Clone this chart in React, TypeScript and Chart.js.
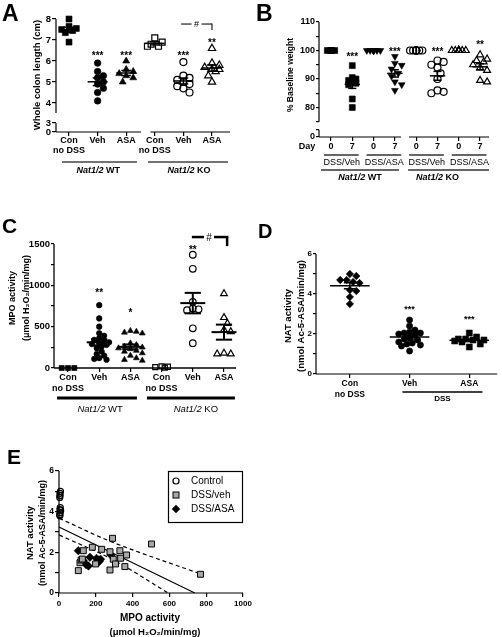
import React, { useEffect, useRef } from 'react';
import { Chart, registerables } from 'chart.js';

Chart.register(...registerables);

const W = 502;
const H = 637;
const FONT = '"Liberation Sans", Arial, Helvetica, sans-serif';
const YW = 40;
const XH = 40;

/* ===================== DATA ===================== */
// Panel A – whole colon length (cm)
const A_CATEGORIES = [['Con', 'no DSS'], ['Veh'], ['ASA'], ['Con', 'no DSS'], ['Veh'], ['ASA']];
const A_WT_CON = [8.0, 7.65, 7.55, 7.5, 7.45, 7.35, 6.9];
const A_WT_VEH = [5.9, 5.5, 5.3, 5.2, 5.0, 4.9, 4.7, 4.5, 4.1];
const A_WT_ASA = [6.0, 5.6, 5.5, 5.4, 5.3, 5.2, 5.0];
const A_KO_CON = [7.1, 6.9, 6.8, 6.7, 6.7];
const A_KO_VEH = [5.95, 5.3, 5.2, 5.1, 5.0, 4.9, 4.8, 4.7, 4.5];
const A_KO_ASA = [6.6, 5.9, 5.8, 5.7, 5.6, 5.6, 5.5, 5.3, 5.0];
const A_Y_TICKS = [0, 3, 4, 5, 6, 7, 8];
const A_STARS = ['', '***', '***', '', '***', '**'];

// Panel B – % baseline weight
const B_DAYS = ['0', '7', '0', '7', '0', '7', '0', '7'];
const B_TREATMENTS = ['DSS/Veh', 'DSS/ASA', 'DSS/Veh', 'DSS/ASA'];
const B_WT_VEH_D0 = [100, 100, 100, 100, 100, 100, 100, 100, 100];
const B_WT_VEH_D7 = [94.7, 90.5, 90, 89.5, 89, 88.5, 88, 83, 80];
const B_WT_ASA_D0 = [100, 100, 100, 100, 100, 100, 100, 100, 100];
const B_WT_ASA_D7 = [97.9, 95.5, 94.8, 93.5, 92, 91, 89, 88, 86];
const B_KO_VEH_D0 = [100, 100, 100, 100, 100, 100, 100, 100, 100];
const B_KO_VEH_D7 = [96.5, 96, 95, 94, 92, 90, 86, 85.5, 85];
const B_KO_ASA_D0 = [100, 100, 100, 100, 100, 100, 100, 100, 100];
const B_KO_ASA_D7 = [98.5, 97, 96.5, 96, 95, 94, 93, 89.5, 89];
const B_Y_TICKS = [0, 80, 90, 100, 110];
const B_Y_MINOR = [75, 85, 95, 105];
const B_STARS = ['', '***', '', '***', '', '***', '', '**'];

// Panel C – MPO activity
const C_CATEGORIES = [['Con', 'no DSS'], ['Veh'], ['ASA'], ['Con', 'no DSS'], ['Veh'], ['ASA']];
const C_WT_CON = [0, 0, 0];
const C_WT_VEH = [760, 600, 500, 420, 390, 360, 340, 320, 310, 300, 290, 280, 260, 240, 200, 170, 150, 120, 110, 100];
const C_WT_ASA = [450, 440, 430, 420, 300, 280, 260, 250, 240, 230, 210, 200, 180, 150, 120, 100, 90];
const C_KO_CON = [20, 15, 10, 5];
const C_KO_VEH = [1370, 1200, 800, 720, 710, 700, 480, 300];
const C_KO_ASA = [900, 610, 540, 460, 440, 180, 170, 170];
const C_Y_TICKS = [0, 500, 1000, 1500];
const C_Y_MINOR = [250, 750, 1250];
const C_STARS = ['', '**', '*', '', '**', ''];

// Panel D – NAT activity
const D_CATEGORIES = [['Con', 'no DSS'], ['Veh'], ['ASA']];
const D_CON = [5.0, 4.9, 4.7, 4.7, 4.6, 4.55, 4.2, 4.15, 3.85, 3.5];
const D_VEH = [2.7, 2.4, 2.2, 2.1, 2.05, 2.05, 2.0, 1.95, 1.8, 1.75, 1.7, 1.6, 1.55, 1.5, 1.45, 1.4, 1.15];
const D_ASA = [2.05, 1.85, 1.75, 1.75, 1.7, 1.7, 1.65, 1.6, 1.5, 1.35];
const D_Y_TICKS = [0, 2, 4, 6];
const D_Y_MINOR = [1, 3, 5];
const D_STARS = ['', '***', '***'];

// Panel E – NAT vs MPO correlation
const E_SERIES = ['Control', 'DSS/veh', 'DSS/ASA'];
const E_CONTROL_MPO = [8, 5, 6, 4, 7, 5, 9, 6, 4, 5];
const E_CONTROL_NAT = [5.0, 4.9, 4.8, 4.7, 4.2, 4.1, 4.05, 3.95, 3.85, 3.8];
const E_VEH_MPO = [105, 114, 120, 127, 132, 181, 199, 232, 277, 291, 277, 295, 307, 331, 335, 358, 367, 503, 769];
const E_VEH_NAT = [1.1, 1.49, 1.62, 1.67, 2.08, 2.25, 1.43, 2.15, 2.03, 2.69, 1.13, 1.66, 1.43, 2.08, 1.71, 1.3, 1.87, 2.41, 0.92];
const E_ASA_MPO = [105, 132, 147, 160, 168, 204, 212, 226, 219, 282];
const E_ASA_NAT = [2.08, 1.59, 1.4, 1.33, 1.76, 1.7, 1.62, 1.66, 1.55, 1.87];
const E_FIT_MPO = [0, 738];
const E_FIT_NAT = [3.25, 0];
const E_UPPER_MPO = [0, 290, 765];
const E_UPPER_NAT = [3.68, 2.5, 0.95];
const E_LOWER_MPO = [0, 300, 593];
const E_LOWER_NAT = [2.86, 1.6, 0];
const E_X_TICKS = [0, 200, 400, 600, 800, 1000];
const E_Y_TICKS = [0, 2, 4, 6];
const E_Y_MINOR = [1, 3, 5];

/* ===================== HELPERS ===================== */
const f = (size: number, weight = 'bold', style = 'normal') => `${style} ${weight} ${size}px ${FONT}`;

function seg(ctx: any, x1: number, y1: number, x2: number, y2: number, lw = 1.2, color = '#000', dash: number[] = []) {
  ctx.save();
  ctx.strokeStyle = color;
  ctx.lineWidth = lw;
  ctx.setLineDash(dash);
  ctx.beginPath();
  ctx.moveTo(x1, y1);
  ctx.lineTo(x2, y2);
  ctx.stroke();
  ctx.restore();
}

function text(ctx: any, s: string, x: number, y: number, font: string, align = 'center', baseline = 'middle', angle = 0) {
  ctx.save();
  ctx.font = font;
  ctx.fillStyle = '#000';
  ctx.textAlign = align;
  ctx.textBaseline = baseline;
  ctx.translate(x, y);
  if (angle) ctx.rotate(angle);
  ctx.fillText(s, 0, 0);
  ctx.restore();
}

const vtext = (ctx: any, s: string, x: number, y: number, font: string) => text(ctx, s, x, y, font, 'center', 'middle', -Math.PI / 2);
const letter = (ctx: any, s: string, x: number, baseline: number, size: number) => text(ctx, s, x, baseline, f(size), 'left', 'alphabetic');

function glyph(ctx: any, s: string, cx: number, cy: number, size: number, kind: 'star' | 'hash', weight = 'bold') {
  const k = kind === 'star' ? 0.57 : 0.36;
  text(ctx, s, cx, cy + k * size, f(size, weight), 'center', 'alphabetic');
}

function rich(ctx: any, parts: [string, string][], cx: number, cy: number) {
  ctx.save();
  let total = 0;
  const widths = parts.map(([s, fo]) => {
    ctx.font = fo;
    const w = ctx.measureText(s).width;
    total += w;
    return w;
  });
  let x = cx - total / 2;
  ctx.fillStyle = '#000';
  ctx.textBaseline = 'middle';
  ctx.textAlign = 'left';
  parts.forEach(([s, fo], i) => {
    ctx.font = fo;
    ctx.fillText(s, x, cy);
    x += widths[i];
  });
  ctx.restore();
}

function swarm(values: number[], pyu: number, d: number, cap: number): number[] {
  const idx = values.map((_, i) => i).sort((a, b) => values[b] - values[a]);
  const placed: { x: number; y: number }[] = [];
  const out = values.map(() => 0);
  const step = d * 0.5;
  for (const i of idx) {
    const y = values[i] * pyu;
    let best = 0;
    let bestScore = -1;
    for (let k = 0; k < 60; k++) {
      const off = (k % 2 === 1 ? 1 : -1) * Math.ceil(k / 2) * step;
      if (Math.abs(off) > cap + 1e-6) continue;
      let minD = Infinity;
      for (const p of placed) minD = Math.min(minD, Math.hypot(p.x - off, p.y - y));
      if (minD >= d * 0.95) {
        best = off;
        bestScore = Infinity;
        break;
      }
      if (minD > bestScore) {
        bestScore = minD;
        best = off;
      }
    }
    placed.push({ x: best, y });
    out[i] = best;
  }
  return out;
}

const meanOf = (v: number[]) => v.reduce((a, b) => a + b, 0) / v.length;
const semOf = (v: number[]) => {
  const m = meanOf(v);
  const sd = Math.sqrt(v.reduce((a, b) => a + (b - m) * (b - m), 0) / (v.length - 1));
  return sd / Math.sqrt(v.length);
};

type Tick = { v: number; label: any };

function scaleOpts(axis: 'x' | 'y', spec: any) {
  const isX = axis === 'x';
  const ticks: Tick[] = isX ? spec.xTicks : spec.yTicks;
  const fo = isX ? spec.xFont : spec.yFont;
  const range = isX ? spec.xr : spec.yr;
  return {
    type: 'linear',
    min: range[0],
    max: range[1],
    border: { display: false },
    grid: {
      display: true,
      drawOnChartArea: false,
      drawTicks: true,
      tickLength: isX ? spec.xTickLen : spec.yTickLen,
      color: '#000',
      tickColor: '#000',
      lineWidth: 1.2,
      tickWidth: 1.2,
    },
    ticks: {
      autoSkip: false,
      maxRotation: 0,
      minRotation: 0,
      padding: isX ? spec.xPad : spec.yPad,
      color: '#000',
      font: { family: FONT, size: fo.size, weight: 'bold', lineHeight: fo.lh || 1.2 },
      callback: (val: number) => {
        const t = ticks.find((tk) => Math.abs(tk.v - val) < 1e-9);
        return t ? t.label : '';
      },
    },
    afterBuildTicks: (s: any) => {
      s.ticks = ticks.map((t) => ({ value: t.v }));
    },
    afterFit: (s: any) => {
      if (isX) s.height = XH;
      else s.width = YW;
      s.paddingLeft = 0;
      s.paddingRight = 0;
      s.paddingTop = 0;
      s.paddingBottom = 0;
    },
  };
}

function baseOptions(spec: any) {
  const a = spec.area;
  return {
    responsive: false,
    animation: false,
    events: [],
    layout: { padding: { left: a.l - YW, top: a.t, right: W - a.r, bottom: H - a.b - XH } },
    plugins: { legend: { display: false }, tooltip: { enabled: false }, title: { display: false } },
    scales: { x: scaleOpts('x', spec), y: scaleOpts('y', spec) },
  };
}

function helpers(chart: any) {
  const xs = chart.scales.x;
  const ys = chart.scales.y;
  return {
    ctx: chart.ctx,
    px: (v: number) => xs.getPixelForValue(v),
    py: (v: number) => ys.getPixelForValue(v),
    area: chart.chartArea,
  };
}

function buildDot(spec: any) {
  const a = spec.area;
  const pxu = (a.r - a.l) / (spec.xr[1] - spec.xr[0]);
  const pyu = (a.b - a.t) / (spec.yr[1] - spec.yr[0]);
  const datasets = spec.groups.map((g: any) => {
    const offs = swarm(g.values, pyu, g.mark.r * 1.75, spec.jitterCap);
    return {
      data: g.values.map((v: number, i: number) => ({ x: g.x + offs[i] / pxu, y: v })),
      pointStyle: g.mark.shape,
      pointRadius: g.mark.r,
      pointRotation: g.mark.rot || 0,
      pointBackgroundColor: g.mark.filled ? '#000' : 'rgba(0,0,0,0)',
      pointBorderColor: '#000',
      pointBorderWidth: g.mark.filled ? 0.6 : 1.2,
      showLine: false,
      clip: false,
    };
  });
  const plugin = {
    id: 'dotDecor',
    beforeDatasetsDraw(chart: any) {
      const d = helpers(chart);
      for (const [s, e] of spec.ySegs) seg(d.ctx, d.area.left, d.py(s), d.area.left, d.py(e), spec.axisLW);
      for (const [s, e] of spec.xSegs) seg(d.ctx, d.px(s), d.area.bottom, d.px(e), d.area.bottom, spec.axisLW);
    },
    afterDatasetsDraw(chart: any) {
      const d = helpers(chart);
      for (const g of spec.groups) {
        if (!g.bar) continue;
        const m = meanOf(g.values);
        const s = semOf(g.values);
        const x = d.px(g.x);
        const hw = spec.meanHalf * pxu;
        const cw = spec.semHalf * pxu;
        const lw = spec.barLW;
        seg(d.ctx, x - hw, d.py(m), x + hw, d.py(m), lw);
        seg(d.ctx, x, d.py(m - s), x, d.py(m + s), lw);
        seg(d.ctx, x - cw, d.py(m + s), x + cw, d.py(m + s), lw);
        seg(d.ctx, x - cw, d.py(m - s), x + cw, d.py(m - s), lw);
      }
    },
    afterDraw(chart: any) {
      spec.decor(helpers(chart));
    },
  };
  return {
    type: 'scatter',
    data: { datasets },
    options: baseOptions(spec),
    plugins: [plugin],
  };
}

const open = (shape: string, r: number, rot = 0) => ({ shape, filled: false, r, rot });
const fill = (shape: string, r: number, rot = 0) => ({ shape, filled: true, r, rot });

/* ===================== PANELS ===================== */
function makeA() {
  const aAxis = (v: number) => (v >= 4 ? v : 2.62 + (v * 0.43) / 3);
  const series = [A_WT_CON, A_WT_VEH, A_WT_ASA, A_KO_CON, A_KO_VEH, A_KO_ASA];
  const marks = [fill('rect', 4.2), fill('circle', 3.3), fill('triangle', 4), open('rect', 4.2), open('circle', 3.5), open('triangle', 4.2)];
  const starLevel = [0, 6.37, 6.37, 0, 6.37, 7.0];
  return buildDot({
    area: { l: 56, t: 19, r: 230, b: 132 },
    xr: [-0.455, 5.63],
    yr: [2.62, 8],
    xTicks: A_CATEGORIES.map((c, i) => ({ v: i, label: c })),
    yTicks: A_Y_TICKS.map((v) => ({ v: aAxis(v), label: String(v) })),
    groups: series.map((vals, i) => ({ x: i, values: vals, mark: marks[i], bar: true })),
    xFont: { size: 9, lh: 1.1 },
    yFont: { size: 9.5 },
    xTickLen: 4,
    xPad: 0,
    yTickLen: 4,
    yPad: 1,
    meanHalf: 0.35,
    semHalf: 0.17,
    barLW: 1.5,
    jitterCap: 8,
    xSegs: [[-0.455, 2.52], [2.85, 5.63]],
    ySegs: [[2.62, 3.05], [3.52, 8]],
    axisLW: 1.2,
    decor: (d: any) => {
      const ctx = d.ctx;
      letter(ctx, 'A', 2, 21, 23);
      vtext(ctx, 'Whole colon length (cm)', 37, 75, f(9.5));
      A_STARS.forEach((s, i) => s && glyph(ctx, s, d.px(i), d.py(starLevel[i]), 10, 'star'));
      const by = d.py(7.76);
      const bx1 = d.px(3.92);
      const bx2 = d.px(5.0);
      const bxm = d.px(4.46);
      seg(ctx, bx1, by, bxm - 5, by, 1.2, '#222');
      seg(ctx, bxm + 5, by, bx2, by, 1.2, '#222');
      seg(ctx, bx2, by - 0.6, bx2, d.py(7.48), 1.2, '#222');
      glyph(ctx, '#', bxm, by, 9, 'hash', 'normal');
      seg(ctx, d.px(-0.245), 162, d.px(2.38), 162, 1.5, '#444');
      seg(ctx, d.px(2.76), 162, d.px(5.56), 162, 1.5, '#444');
      rich(ctx, [['Nat1/2', f(9, 'bold', 'italic')], [' WT', f(9)]], d.px(1.02), 171);
      rich(ctx, [['Nat1/2', f(9, 'bold', 'italic')], [' KO', f(9)]], d.px(4.2), 171);
    },
  });
}

function makeB() {
  const ZERO_AT = 69.65;
  const LOWER_TOP = 72.2;
  const UPPER_BOTTOM = 75;
  const bAxis = (v: number) => (v >= UPPER_BOTTOM ? v : ZERO_AT + v);
  const series = [B_WT_VEH_D0, B_WT_VEH_D7, B_WT_ASA_D0, B_WT_ASA_D7, B_KO_VEH_D0, B_KO_VEH_D7, B_KO_ASA_D0, B_KO_ASA_D7];
  const marks = [
    fill('rect', 4.2), fill('rect', 4.2),
    fill('triangle', 3.9, 180), fill('triangle', 3.9, 180),
    open('circle', 3.5), open('circle', 3.5),
    open('triangle', 4), open('triangle', 4),
  ];
  const starLevel = [0, 98.6, 0, 100.4, 0, 100.4, 0, 102.8];
  const yTicks: Tick[] = [
    ...B_Y_TICKS.map((v) => ({ v: bAxis(v), label: String(v) })),
    ...B_Y_MINOR.map((v) => ({ v, label: '' })),
    { v: LOWER_TOP, label: '' },
  ];
  return buildDot({
    area: { l: 319, t: 22, r: 489, b: 137 },
    xr: [-0.563, 7.418],
    yr: [ZERO_AT, 110],
    xTicks: B_DAYS.map((c, i) => ({ v: i, label: c })),
    yTicks,
    groups: series.map((vals, i) => ({ x: i, values: vals, mark: marks[i], bar: i % 2 === 1 })),
    xFont: { size: 9, lh: 1.1 },
    yFont: { size: 9 },
    xTickLen: 4,
    xPad: 1,
    yTickLen: 3,
    yPad: 1,
    meanHalf: 0.36,
    semHalf: 0.19,
    barLW: 1.5,
    jitterCap: 7,
    xSegs: [[-0.563, 3.286], [3.662, 7.418]],
    ySegs: [[ZERO_AT, LOWER_TOP], [UPPER_BOTTOM, 110]],
    axisLW: 1.2,
    decor: (d: any) => {
      const ctx = d.ctx;
      letter(ctx, 'B', 256, 21, 23);
      vtext(ctx, '% Baseline weight', 291, 75, f(8.5));
      text(ctx, 'Day', 307, 147, f(9));
      B_STARS.forEach((s, i) => s && glyph(ctx, s, d.px(i), d.py(starLevel[i]), 10, 'star'));
      B_TREATMENTS.forEach((t, p) => {
        seg(ctx, d.px(2 * p - 0.33), 155, d.px(2 * p + 1.3), 155, 1.3, '#333');
        text(ctx, t, d.px(2 * p + 0.5), 163, f(9, 'normal'));
      });
      seg(ctx, d.px(-0.47), 170, d.px(3.19), 170, 1.3, '#333');
      seg(ctx, d.px(3.62), 170, d.px(7.42), 170, 1.3, '#333');
      rich(ctx, [['Nat1/2', f(9, 'bold', 'italic')], [' WT', f(9)]], d.px(1.36), 178);
      rich(ctx, [['Nat1/2', f(9, 'bold', 'italic')], [' KO', f(9)]], d.px(5.0), 178);
    },
  });
}

function makeC() {
  const series = [C_WT_CON, C_WT_VEH, C_WT_ASA, C_KO_CON, C_KO_VEH, C_KO_ASA];
  const marks = [fill('rect', 3.6), fill('circle', 2.8), fill('triangle', 3.4), open('rect', 3.6), open('circle', 3.3), open('triangle', 3.9)];
  const starLevel = [0, 943, 701, 0, 1463, 0];
  const yTicks: Tick[] = [...C_Y_TICKS.map((v) => ({ v, label: String(v) })), ...C_Y_MINOR.map((v) => ({ v, label: '' }))];
  return buildDot({
    area: { l: 54, t: 244, r: 236, b: 368 },
    xr: [-0.449, 5.385],
    yr: [0, 1500],
    xTicks: C_CATEGORIES.map((c, i) => ({ v: i, label: c })),
    yTicks,
    groups: series.map((vals, i) => ({ x: i, values: vals, mark: marks[i], bar: i % 3 !== 0 })),
    xFont: { size: 9, lh: 1.2 },
    yFont: { size: 9.5 },
    xTickLen: 4,
    xPad: 0,
    yTickLen: 3,
    yPad: 1,
    meanHalf: 0.4,
    semHalf: 0.26,
    barLW: 2,
    jitterCap: 12,
    xSegs: [[-0.449, 5.385]],
    ySegs: [[0, 1500]],
    axisLW: 1.3,
    decor: (d: any) => {
      const ctx = d.ctx;
      letter(ctx, 'C', 2, 233, 21);
      vtext(ctx, 'MPO activity', 13, 298, f(9));
      vtext(ctx, '(\u03bcmol H\u2082O\u2082/min/mg)', 27, 298, f(9));
      C_STARS.forEach((s, i) => s && glyph(ctx, s, d.px(i), d.py(starLevel[i]), 10, 'star'));
      const by = d.py(1584);
      const bx1 = d.px(3.97);
      const bx2 = d.px(5.1);
      const bxm = d.px(4.52);
      seg(ctx, bx1, by, bxm - 5, by, 2.5);
      seg(ctx, bxm + 5, by, bx2 + 1.2, by, 2.5);
      seg(ctx, bx2, by, bx2, d.py(1475), 2.5);
      glyph(ctx, '#', bxm, by, 10, 'hash', 'normal');
      seg(ctx, d.px(-0.35), 398, d.px(2.21), 398, 3);
      seg(ctx, d.px(2.53), 398, d.px(5.35), 398, 3);
      rich(ctx, [['Nat1/2', f(9.5, 'normal', 'italic')], [' WT', f(9.5, 'normal')]], d.px(1.03), 409);
      rich(ctx, [['Nat1/2', f(9.5, 'normal', 'italic')], [' KO', f(9.5, 'normal')]], d.px(4.1), 409);
    },
  });
}

function makeD() {
  const series = [D_CON, D_VEH, D_ASA];
  const marks = [fill('rectRot', 3.7), fill('circle', 3.1), fill('rect', 4.2)];
  const starLevel = [0, 3.37, 2.87];
  const yTicks: Tick[] = [...D_Y_TICKS.map((v) => ({ v, label: String(v) })), ...D_Y_MINOR.map((v) => ({ v, label: '' }))];
  return buildDot({
    area: { l: 316, t: 254, r: 498, b: 374 },
    xr: [-0.567, 2.467],
    yr: [0, 6],
    xTicks: D_CATEGORIES.map((c, i) => ({ v: i, label: c })),
    yTicks,
    groups: series.map((vals, i) => ({ x: i, values: vals, mark: marks[i], bar: true })),
    xFont: { size: 8.5, lh: 1.3 },
    yFont: { size: 8 },
    xTickLen: 4,
    xPad: 0,
    yTickLen: 3,
    yPad: 1,
    meanHalf: 0.33,
    semHalf: 0.1,
    barLW: 1.5,
    jitterCap: 16,
    xSegs: [[-0.567, 2.467]],
    ySegs: [[0, 6]],
    axisLW: 1.2,
    decor: (d: any) => {
      const ctx = d.ctx;
      letter(ctx, 'D', 258, 238, 20);
      vtext(ctx, 'NAT activity', 288, 316, f(9.5));
      vtext(ctx, '(nmol Ac-5-ASA/min/mg)', 301, 316, f(9.5));
      D_STARS.forEach((s, i) => s && glyph(ctx, s, d.px(i), d.py(starLevel[i]), 9, 'star'));
      seg(ctx, d.px(0.88), 392, d.px(2.22), 392, 1.5);
      text(ctx, 'DSS', d.px(1.55), 399, f(8));
    },
  });
}

function makeE() {
  const spec = {
    area: { l: 59, t: 471, r: 243, b: 593 },
    xr: [0, 1000],
    yr: [0, 6],
    xTicks: E_X_TICKS.map((v) => ({ v, label: String(v) })),
    yTicks: [...E_Y_TICKS.map((v) => ({ v, label: String(v) })), ...E_Y_MINOR.map((v) => ({ v, label: '' }))],
    xFont: { size: 8 },
    yFont: { size: 8.5 },
    xTickLen: 4,
    xPad: 2,
    yTickLen: 4,
    yPad: 1,
  };
  const pts = (xs: number[], ys: number[]) => xs.map((x, i) => ({ x, y: ys[i] }));
  const lineDs = (xs: number[], ys: number[], dash: number[]) => ({
    data: pts(xs, ys),
    showLine: true,
    pointRadius: 0,
    borderColor: '#000',
    borderWidth: 1.2,
    borderDash: dash,
    tension: 0.35,
    fill: false,
    clip: false,
  });
  const datasets = [
    {
      label: E_SERIES[0],
      data: pts(E_CONTROL_MPO, E_CONTROL_NAT),
      pointStyle: 'circle',
      pointRadius: 3,
      pointBackgroundColor: 'rgba(0,0,0,0)',
      pointBorderColor: '#000',
      pointBorderWidth: 1.2,
      clip: false,
    },
    {
      label: E_SERIES[1],
      data: pts(E_VEH_MPO, E_VEH_NAT),
      pointStyle: 'rect',
      pointRadius: 4.2,
      pointBackgroundColor: '#a8a8a8',
      pointBorderColor: '#000',
      pointBorderWidth: 1,
      clip: false,
    },
    {
      label: E_SERIES[2],
      data: pts(E_ASA_MPO, E_ASA_NAT),
      pointStyle: 'rectRot',
      pointRadius: 4.2,
      pointBackgroundColor: '#000',
      pointBorderColor: '#000',
      pointBorderWidth: 0.6,
      clip: false,
    },
    lineDs(E_FIT_MPO, E_FIT_NAT, []),
    lineDs(E_UPPER_MPO, E_UPPER_NAT, [4, 3]),
    lineDs(E_LOWER_MPO, E_LOWER_NAT, [4, 3]),
  ];
  const plugin = {
    id: 'eDecor',
    beforeDatasetsDraw(chart: any) {
      const d = helpers(chart);
      seg(d.ctx, d.area.left, d.area.top, d.area.left, d.area.bottom, 1.2);
      seg(d.ctx, d.area.left, d.area.bottom, d.area.right, d.area.bottom, 1.2);
    },
    afterDraw(chart: any) {
      const d = helpers(chart);
      const ctx = d.ctx;
      letter(ctx, 'E', 7, 464, 21);
      vtext(ctx, 'NAT activity', 30, 533, f(9.5));
      vtext(ctx, '(nmol Ac-5-ASA/min/mg)', 43, 533, f(9));
      text(ctx, 'MPO activity', 150, 618, f(10));
      text(ctx, '(\u03bcmol H\u2082O\u2082/min/mg)', 155, 632, f(9.5));
      // legend
      ctx.save();
      ctx.strokeStyle = '#000';
      ctx.lineWidth = 1.2;
      ctx.fillStyle = '#fff';
      ctx.fillRect(168.5, 471.5, 74, 51);
      ctx.strokeRect(168.5, 471.5, 74, 51);
      const mx = 176;
      const rows = [481, 495, 509];
      ctx.beginPath();
      ctx.arc(mx, rows[0], 3, 0, Math.PI * 2);
      ctx.stroke();
      ctx.fillStyle = '#a8a8a8';
      ctx.fillRect(mx - 3, rows[1] - 3, 6, 6);
      ctx.lineWidth = 1;
      ctx.strokeRect(mx - 3, rows[1] - 3, 6, 6);
      ctx.fillStyle = '#000';
      ctx.beginPath();
      ctx.moveTo(mx, rows[2] - 4.2);
      ctx.lineTo(mx + 4.2, rows[2]);
      ctx.lineTo(mx, rows[2] + 4.2);
      ctx.lineTo(mx - 4.2, rows[2]);
      ctx.closePath();
      ctx.fill();
      ctx.restore();
      E_SERIES.forEach((s, i) => text(ctx, s, 191, rows[i], f(10, 'normal'), 'left', 'middle'));
    },
  };
  return {
    type: 'scatter',
    data: { datasets },
    options: baseOptions(spec),
    plugins: [plugin],
  };
}

/* ===================== REACT ===================== */
function ChartLayer({ make }: { make: () => any }) {
  const ref = useRef<HTMLCanvasElement>(null);
  useEffect(() => {
    const chart = new Chart(ref.current as HTMLCanvasElement, make());
    return () => chart.destroy();
  }, [make]);
  return (
    <canvas
      ref={ref}
      width={W}
      height={H}
      style={{ position: 'absolute', left: 0, top: 0, width: W, height: H }}
    />
  );
}

export default function App() {
  return (
    <div style={{ position: 'fixed', left: 0, top: 0, width: W, height: H, background: '#fff', overflow: 'hidden' }}>
      <ChartLayer make={makeA} />
      <ChartLayer make={makeB} />
      <ChartLayer make={makeC} />
      <ChartLayer make={makeD} />
      <ChartLayer make={makeE} />
    </div>
  );
}
